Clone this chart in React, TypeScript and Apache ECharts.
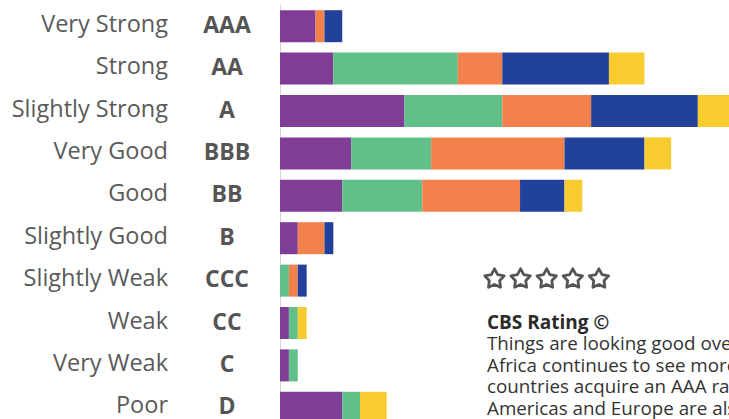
import React, { useEffect, useRef } from "react";
import * as echarts from "echarts";

const ratingNames = ["Very Strong", "Strong", "Slightly Strong", "Very Good", "Good", "Slightly Good", "Slightly Weak", "Weak", "Very Weak", "Poor"];
const ratingCodes = ["AAA", "AA", "A", "BBB", "BB", "B", "CCC", "CC", "C", "D"];

const seriesNames = ["Africa", "Americas", "Asia", "Europe", "Oceania"];
const purpleValues = [4, 6, 14, 8, 7, 2, 0, 1, 1, 7];
const greenValues = [0, 14, 11, 9, 9, 0, 1, 1, 1, 2];
const orangeValues = [1, 5, 10, 15, 11, 3, 1, 0, 0, 0];
const blueValues = [2, 12, 12, 9, 5, 1, 1, 0, 0, 0];
const yellowValues = [0, 4, 4, 3, 2, 0, 0, 1, 0, 3];

const colors = ["#7f3d96", "#61bf89", "#f3814c", "#22419a", "#f8cb2f"];

const noteTitle = "CBS Rating ©";
const noteLines = [
  "Things are looking good overall as",
  "Africa continues to see more",
  "countries acquire an AAA rating.",
  "Americas and Europe are also stable.",
];

function starPoints(cx: number, cy: number, R: number, r: number) {
  const pts: number[][] = [];
  for (let i = 0; i < 10; i++) {
    const rad = i % 2 === 0 ? R : r;
    const a = -Math.PI / 2 + (i * Math.PI) / 5;
    pts.push([cx + rad * Math.cos(a), cy + rad * Math.sin(a)]);
  }
  return pts;
}

export default function App() {
  const ref = useRef<HTMLDivElement>(null);
  useEffect(() => {
    if (!ref.current) return;
    const chart = echarts.init(ref.current, null, { renderer: "svg" });
    const font = "'Open Sans', sans-serif";
    const allValues = [purpleValues, greenValues, orangeValues, blueValues, yellowValues];
    const stars: any[] = [];
    for (let i = 0; i < 5; i++) {
      stars.push({
        type: "polygon",
        shape: { points: starPoints(494.5 + i * 26.1, 279, 10.2, 5.4) },
        style: { fill: "none", stroke: "#555555", lineWidth: 2.8, lineJoin: "round" },
      });
    }
    const texts: any[] = [
      {
        type: "text",
        x: 487,
        y: 322,
        style: { text: noteTitle, font: `bold 19px ${font}`, fill: "#2b2b2b", verticalAlign: "middle" },
      },
      ...noteLines.map((t, i) => ({
        type: "text",
        x: 487,
        y: 343 + i * 21.7,
        style: { text: t, font: `18.8px ${font}`, fill: "#333333", verticalAlign: "middle" },
      })),
    ];
    chart.setOption({
      animation: false,
      textStyle: { fontFamily: font },
      grid: { left: 280, top: 5, width: 533.4, height: 424, containLabel: false },
      xAxis: { type: "value", min: 0, max: 60, show: false },
      yAxis: [
        {
          type: "category",
          inverse: true,
          data: ratingCodes,
          axisLine: { show: true, lineStyle: { color: "#d4d4d4", width: 1 } },
          axisTick: { show: false },
          axisLabel: {
            align: "center",
            verticalAlign: "bottom",
            lineHeight: 5,
            margin: 53,
            fontSize: 23,
            fontWeight: "bold",
            color: "#555555",
            fontFamily: font,
          },
        },
        {
          type: "category",
          inverse: true,
          position: "left",
          data: ratingNames,
          axisLine: { show: false },
          axisTick: { show: false },
          axisLabel: {
            align: "right",
            verticalAlign: "bottom",
            lineHeight: 7,
            margin: 112,
            fontSize: 23.5,
            color: "#5a5a5a",
            fontFamily: font,
          },
        },
      ],
      series: seriesNames.map((name, i) => ({
        name,
        type: "bar",
        stack: "total",
        barWidth: 32,
        data: allValues[i],
        itemStyle: { color: colors[i] },
      })),
      graphic: [...stars, ...texts],
    });
    return () => chart.dispose();
  }, []);
  return (
    <div style={{ position: "fixed", left: 0, top: 0, width: 729, height: 419, overflow: "hidden", background: "#fff" }}>
      <div ref={ref} style={{ width: 900, height: 460 }} />
    </div>
  );
}
